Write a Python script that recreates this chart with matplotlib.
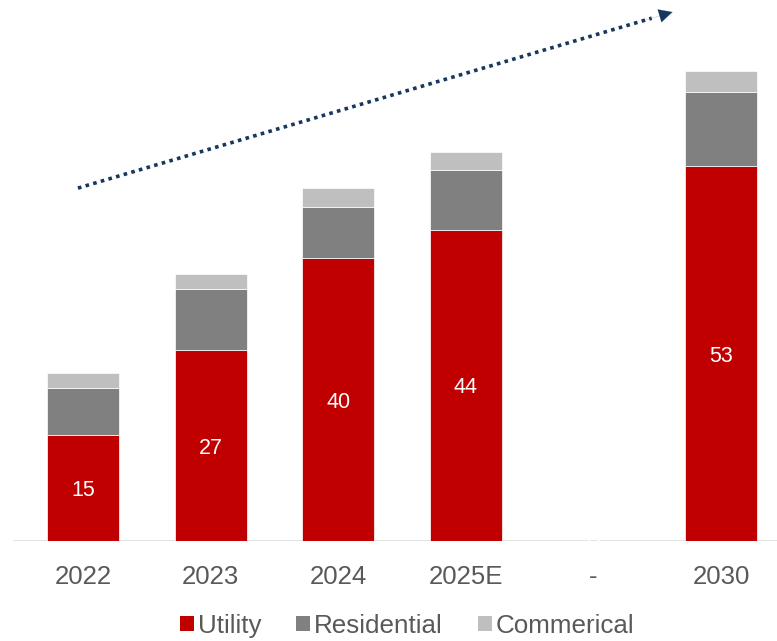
import numpy as np
import matplotlib
matplotlib.use("Agg")
import matplotlib.pyplot as plt
from matplotlib.patches import Patch

plt.rcParams['font.family'] = ['Liberation Sans', 'DejaVu Sans']

categories = ["2022", "2023", "2024", "2025E", "-", "2030"]
utility = [15, 27, 40, 44, np.nan, 53]
residential = [6.6, 8.6, 7.2, 8.5, np.nan, 10.5]
commercial = [2.1, 2.1, 2.7, 2.5, np.nan, 3.0]
utility_labels = ["15", "27", "40", "44", "", "53"]

c_util = "#C00000"
c_res = "#808080"
c_com = "#BFBFBF"
txt_gray = "#595959"

fig = plt.figure(figsize=(7.77, 6.41), dpi=100)
ax = fig.add_axes([13 / 777, 100 / 641, 764 / 777, 541 / 641])

x = np.arange(len(categories))
u = np.array(utility, dtype=float)
r = np.array(residential, dtype=float)
c = np.array(commercial, dtype=float)
mask = ~np.isnan(u)
w = 0.565
ax.bar(x[mask], u[mask], w, color=c_util, edgecolor="white", linewidth=0.5, zorder=2)
ax.bar(x[mask], r[mask], w, bottom=u[mask], color=c_res, edgecolor="white", linewidth=0.5, zorder=2)
ax.bar(x[mask], c[mask], w, bottom=u[mask] + r[mask], color=c_com, edgecolor="white", linewidth=0.5, zorder=2)

for xi, ui, lab in zip(x, u, utility_labels):
    if lab:
        ax.text(xi, ui / 2, lab, ha="center", va="center_baseline", color="white", fontsize=15.5, zorder=3)

ax.set_xlim(-0.549, 5.439)
ax.set_ylim(0, 76.5)
for s in ax.spines.values():
    s.set_visible(False)
ax.set_yticks([])
ax.set_xticks(x)
ax.set_xticklabels(categories, fontsize=18.5, color=txt_gray)
ax.tick_params(axis="x", length=0, pad=17)

# baseline with small break
for a, b in [(0.0, 0.7526), (0.7552, 0.7644), (0.767, 1.0)]:
    ax.axhline(0, xmin=a, xmax=b, color="#D9D9D9", linewidth=1.8, zorder=1, solid_capstyle="butt")

# dotted trend arrow
x0, y0 = -0.04, 49.9
x1, y1 = 4.62, 74.8
fx = 0.965
ax.plot([x0, x0 + (x1 - x0) * fx], [y0, y0 + (y1 - y0) * fx], linestyle=(0, (1, 1.2)),
        color="#17375E", linewidth=2.6, zorder=3, clip_on=False)
ax.annotate("", xy=(x1, y1), xytext=(x0 + (x1 - x0) * 0.95, y0 + (y1 - y0) * 0.95),
            arrowprops=dict(arrowstyle="-|>", color="#17375E", lw=0.1, mutation_scale=24,
                            shrinkA=0, shrinkB=0), annotation_clip=False, zorder=3)

handles = [Patch(facecolor=c_util), Patch(facecolor=c_res), Patch(facecolor=c_com)]
leg = fig.legend(handles, ["Utility", "Residential", "Commerical"], loc="center",
                 bbox_to_anchor=(0.524, 0.024), ncol=3, frameon=False, fontsize=18.7,
                 handlelength=0.54, handleheight=0.54, handletextpad=0.15,
                 columnspacing=1.35, borderaxespad=0, borderpad=0)
for t in leg.get_texts():
    t.set_color(txt_gray)

fig.savefig("out.png", dpi=100)
